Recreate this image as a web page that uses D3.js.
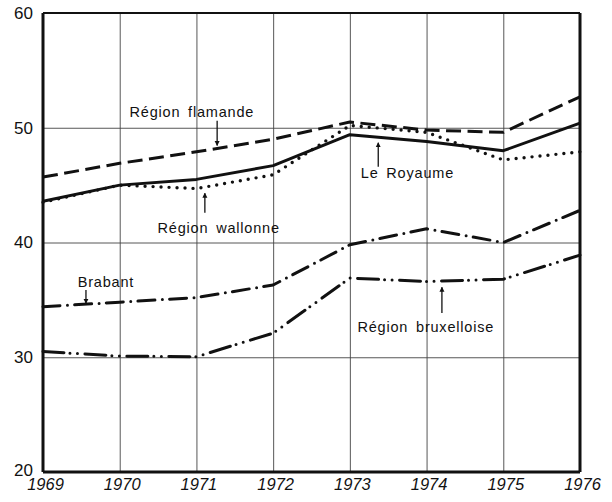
<script src="https://cdnjs.cloudflare.com/ajax/libs/d3/7.8.5/d3.min.js"></script>
<style>
  body { margin: 0; background: #fff; }
  svg text { font-family: "Liberation Sans", Arial, Helvetica, sans-serif; fill: #111; }
</style>
<svg id="chart" width="612" height="502"></svg>
<script>
  // data
  const years = [1969, 1970, 1971, 1972, 1973, 1974, 1975, 1976]
  const yTicks = [20, 30, 40, 50, 60]
  const flamande = [45.7, 46.9, 47.9, 49.0, 50.5, 49.8, 49.6, 52.7]
  const royaume = [43.6, 45.0, 45.5, 46.7, 49.4, 48.8, 48.0, 50.4]
  const wallonne = [43.5, 45.0, 44.7, 45.9, 50.2, 49.6, 47.2, 47.9]
  const brabant = [34.4, 34.8, 35.2, 36.3, 39.8, 41.2, 40.0, 42.8]
  const bruxelles = [30.5, 30.1, 30.05, 32.1, 36.9, 36.6, 36.8, 38.9]

  const series = [
    { name: 'flamande', values: flamande, dash: '15,6.5', cap: 'butt' },
    { name: 'royaume', values: royaume, dash: null, cap: 'butt' },
    { name: 'wallonne', values: wallonne, dash: '0,8', cap: 'round' },
    { name: 'brabant', values: brabant, dash: '17,7.5,0,7.2', cap: 'round' },
    { name: 'bruxelles', values: bruxelles, dash: '21,6,0,7.5,0,7.5', cap: 'round' }
  ]

  // labels with arrows, in data units: text centre, arrow from / to
  const notes = [
    { text: 'Région flamande', x: 1970.94, y: 50.95, ax: 1971.27, ay1: 50.6, ay2: 48.45 },
    { text: 'Région wallonne', x: 1971.29, y: 40.83, ax: 1971.11, ay1: 42.6, ay2: 44.3 },
    { text: 'Le Royaume', x: 1973.75, y: 45.62, ax: 1973.37, ay1: 46.6, ay2: 48.7 },
    { text: 'Brabant', x: 1969.82, y: 36.12, ax: 1969.56, ay1: 35.85, ay2: 34.7 },
    { text: 'Région bruxelloise', x: 1973.99, y: 32.2, ax: 1974.2, ay1: 33.85, ay2: 36.1 }
  ]

  const svg = d3.select('#chart')
  const margin = { top: 13, right: 32, bottom: 30, left: 43 }
  const width = svg.attr('width') - margin.left - margin.right
  const height = svg.attr('height') - margin.top - margin.bottom

  const x = d3.scaleLinear().domain([1969, 1976]).range([margin.left, margin.left + width])
  const y = d3.scaleLinear().domain([20, 60]).range([margin.top + height, margin.top])

  // grid + labels
  svg.append('g')
    .attr('transform', 'translate(0,' + (margin.top + height) + ')')
    .call(d3.axisBottom(x).tickValues(years).tickFormat(d3.format('d')).tickSize(-height).tickPadding(6))
    .call(g => g.select('.domain').remove())
    .call(g => g.selectAll('line').attr('stroke', '#444').attr('stroke-width', 0.9))
    .call(g => g.selectAll('text').style('font-size', '16.5px').style('font-style', 'italic').attr('dx', '2').attr('fill', '#000'))

  svg.append('g')
    .attr('transform', 'translate(' + margin.left + ',0)')
    .call(d3.axisLeft(y).tickValues(yTicks).tickSize(-width).tickPadding(10))
    .call(g => g.select('.domain').remove())
    .call(g => g.selectAll('line').attr('stroke', '#444').attr('stroke-width', 0.9))
    .call(g => g.selectAll('text').style('font-size', '17px').attr('fill', '#000'))
    .call(g => g.selectAll('.tick').filter(d => d == 20).select('text').attr('dy', '0.2em'))

  // frame
  const frame = svg.append('g').attr('stroke', '#111').attr('fill', 'none')
  frame.append('line').attr('x1', x(1969)).attr('x2', x(1976)).attr('y1', y(60)).attr('y2', y(60)).attr('stroke-width', 2)
  frame.append('line').attr('x1', x(1969)).attr('x2', x(1976)).attr('y1', y(20)).attr('y2', y(20)).attr('stroke-width', 3)
  frame.append('line').attr('x1', x(1969)).attr('x2', x(1969)).attr('y1', y(60)).attr('y2', y(20)).attr('stroke-width', 3)
  frame.append('line').attr('x1', x(1976)).attr('x2', x(1976)).attr('y1', y(60)).attr('y2', y(20)).attr('stroke-width', 3)

  // lines
  const line = d3.line().x((d, i) => x(years[i])).y(d => y(d))
  svg.selectAll('path.series')
    .data(series).enter()
    .append('path')
    .attr('class', 'series')
    .attr('fill', 'none')
    .attr('stroke', '#111')
    .attr('stroke-width', d => d.name == 'wallonne' ? 3.4 : 3)
    .attr('stroke-linecap', d => d.cap)
    .attr('stroke-linejoin', 'round')
    .attr('stroke-dasharray', d => d.dash)
    .attr('d', d => line(d.values))

  // arrow heads
  svg.append('defs').append('marker')
    .attr('id', 'head')
    .attr('viewBox', '0 0 10 10')
    .attr('refX', 9).attr('refY', 5)
    .attr('markerWidth', 5).attr('markerHeight', 7)
    .attr('markerUnits', 'userSpaceOnUse')
    .attr('orient', 'auto')
    .append('path').attr('d', 'M0,0 L10,5 L0,10 Z').attr('fill', '#111')

  svg.selectAll('line.arrow')
    .data(notes).enter()
    .append('line')
    .attr('class', 'arrow')
    .attr('stroke', '#111')
    .attr('stroke-width', 1.3)
    .attr('x1', d => x(d.ax)).attr('x2', d => x(d.ax))
    .attr('y1', d => y(d.ay1)).attr('y2', d => y(d.ay2))
    .attr('marker-end', 'url(#head)')

  svg.selectAll('text.note')
    .data(notes).enter()
    .append('text')
    .attr('class', 'note')
    .attr('x', d => x(d.x))
    .attr('y', d => y(d.y))
    .attr('text-anchor', 'middle')
    .style('font-size', '14.5px')
    .style('letter-spacing', '0.8px')
    .style('word-spacing', '3px')
    .text(d => d.text)
</script>
